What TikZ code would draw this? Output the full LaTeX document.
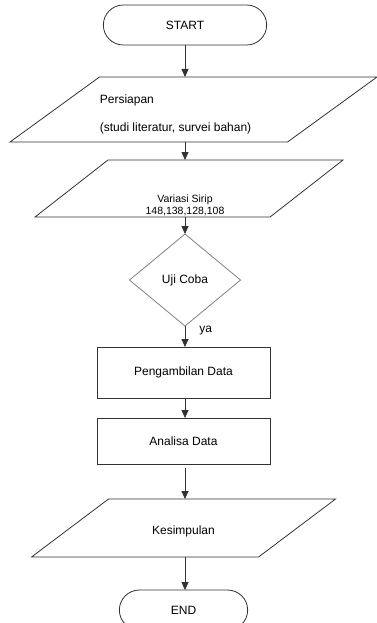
\documentclass[tikz,border=0pt]{standalone}
\usepackage{fontspec}
\setmainfont{Liberation Sans}
\usepackage{tikz}
\usetikzlibrary{shapes,arrows.meta,positioning}
\definecolor{flowline}{RGB}{50, 50, 50}
\definecolor{flowgray}{RGB}{128, 128, 128}

\tikzset{
  terminal/.style={draw=flowline, rounded rectangle, minimum width=170pt, minimum height=40pt, font=\fontsize{12}{14}\selectfont},
  iobox/.style={draw=flowline, trapezium, trapezium stretches body, inner xsep=0pt},
  iotext/.style={font=\fontsize{12}{14}\selectfont},
  procbox/.style={draw=flowline, rectangle, minimum width=173pt, font=\fontsize{12}{14}\selectfont},
  decbox/.style={draw=flowgray, diamond, aspect=1.2, minimum width=111pt, minimum height=92pt, inner sep=0pt, font=\fontsize{12}{14}\selectfont},
  flow/.style={draw=flowline, line width=0.8pt, -{Triangle[width=7pt,length=8pt]}}
}

\begin{document}
\begin{tikzpicture}[line width=0.8pt, every node/.style={outer sep=0pt}]
        \useasboundingbox (0,0) rectangle (377pt,-623pt);
        \node[terminal] (start) at (185pt,-25pt) {START};
        \node[iobox, trapezium left angle=36, trapezium right angle=144, inner ysep=32.5pt, minimum width=367pt, below=32pt of start, xshift=8.5pt] (prep) {};
        \node[iotext, align=left, anchor=west] (preptext) at ([xshift=-97pt, yshift=-4.5pt]prep.center) {Persiapan\\[14pt](studi literatur, survei bahan)};
        \node[iobox, trapezium left angle=38, trapezium right angle=142, inner ysep=28.5pt, minimum width=308pt, below=18pt of prep, xshift=-4.5pt] (var) {};
        \node[font=\fontsize{10.5}{12}\selectfont, align=center] (vartext) at ([xshift=-4pt, yshift=-17pt]var.center) {Variasi Sirip\\148,138,128,108};
        \node[decbox, below=17pt of var, xshift=-4pt] (test) {Uji Coba};
        \node[procbox, minimum height=51pt, below=21pt of test, xshift=-1.5pt] (data) {Pengambilan Data};
        \node[procbox, minimum height=46pt, below=20pt of data] (anl) {Analisa Data};
        \node[iobox, trapezium left angle=37, trapezium right angle=143, inner ysep=29pt, minimum width=304pt, below=35pt of anl] (concl) {};
        \node[iotext] (concltext) at ([yshift=-3pt]concl.center) {Kesimpulan};
        \node[terminal, minimum width=135pt, below=33pt of concl] (end) {END};

        % Arrows
        \draw[flow] (start.south) -- (start.south |- prep.north);
        \draw[flow] (start.south |- prep.south) -- (start.south |- var.north);
        \draw[flow] (start.south |- var.south) -- (start.south |- test.north);
        \draw[flow] (start.south |- test.south) -- node[pos=0.2, anchor=west, xshift=11pt, font=\fontsize{12}{14}\selectfont] {ya} (start.south |- data.north);
        \draw[flow] (start.south |- data.south) -- (start.south |- anl.north);
        \draw[flow, shorten <=4pt] (start.south |- anl.south) -- (start.south |- concl.north);
        \draw[flow] (start.south |- concl.south) -- (start.south |- end.north);
    \end{tikzpicture}
\end{document}
